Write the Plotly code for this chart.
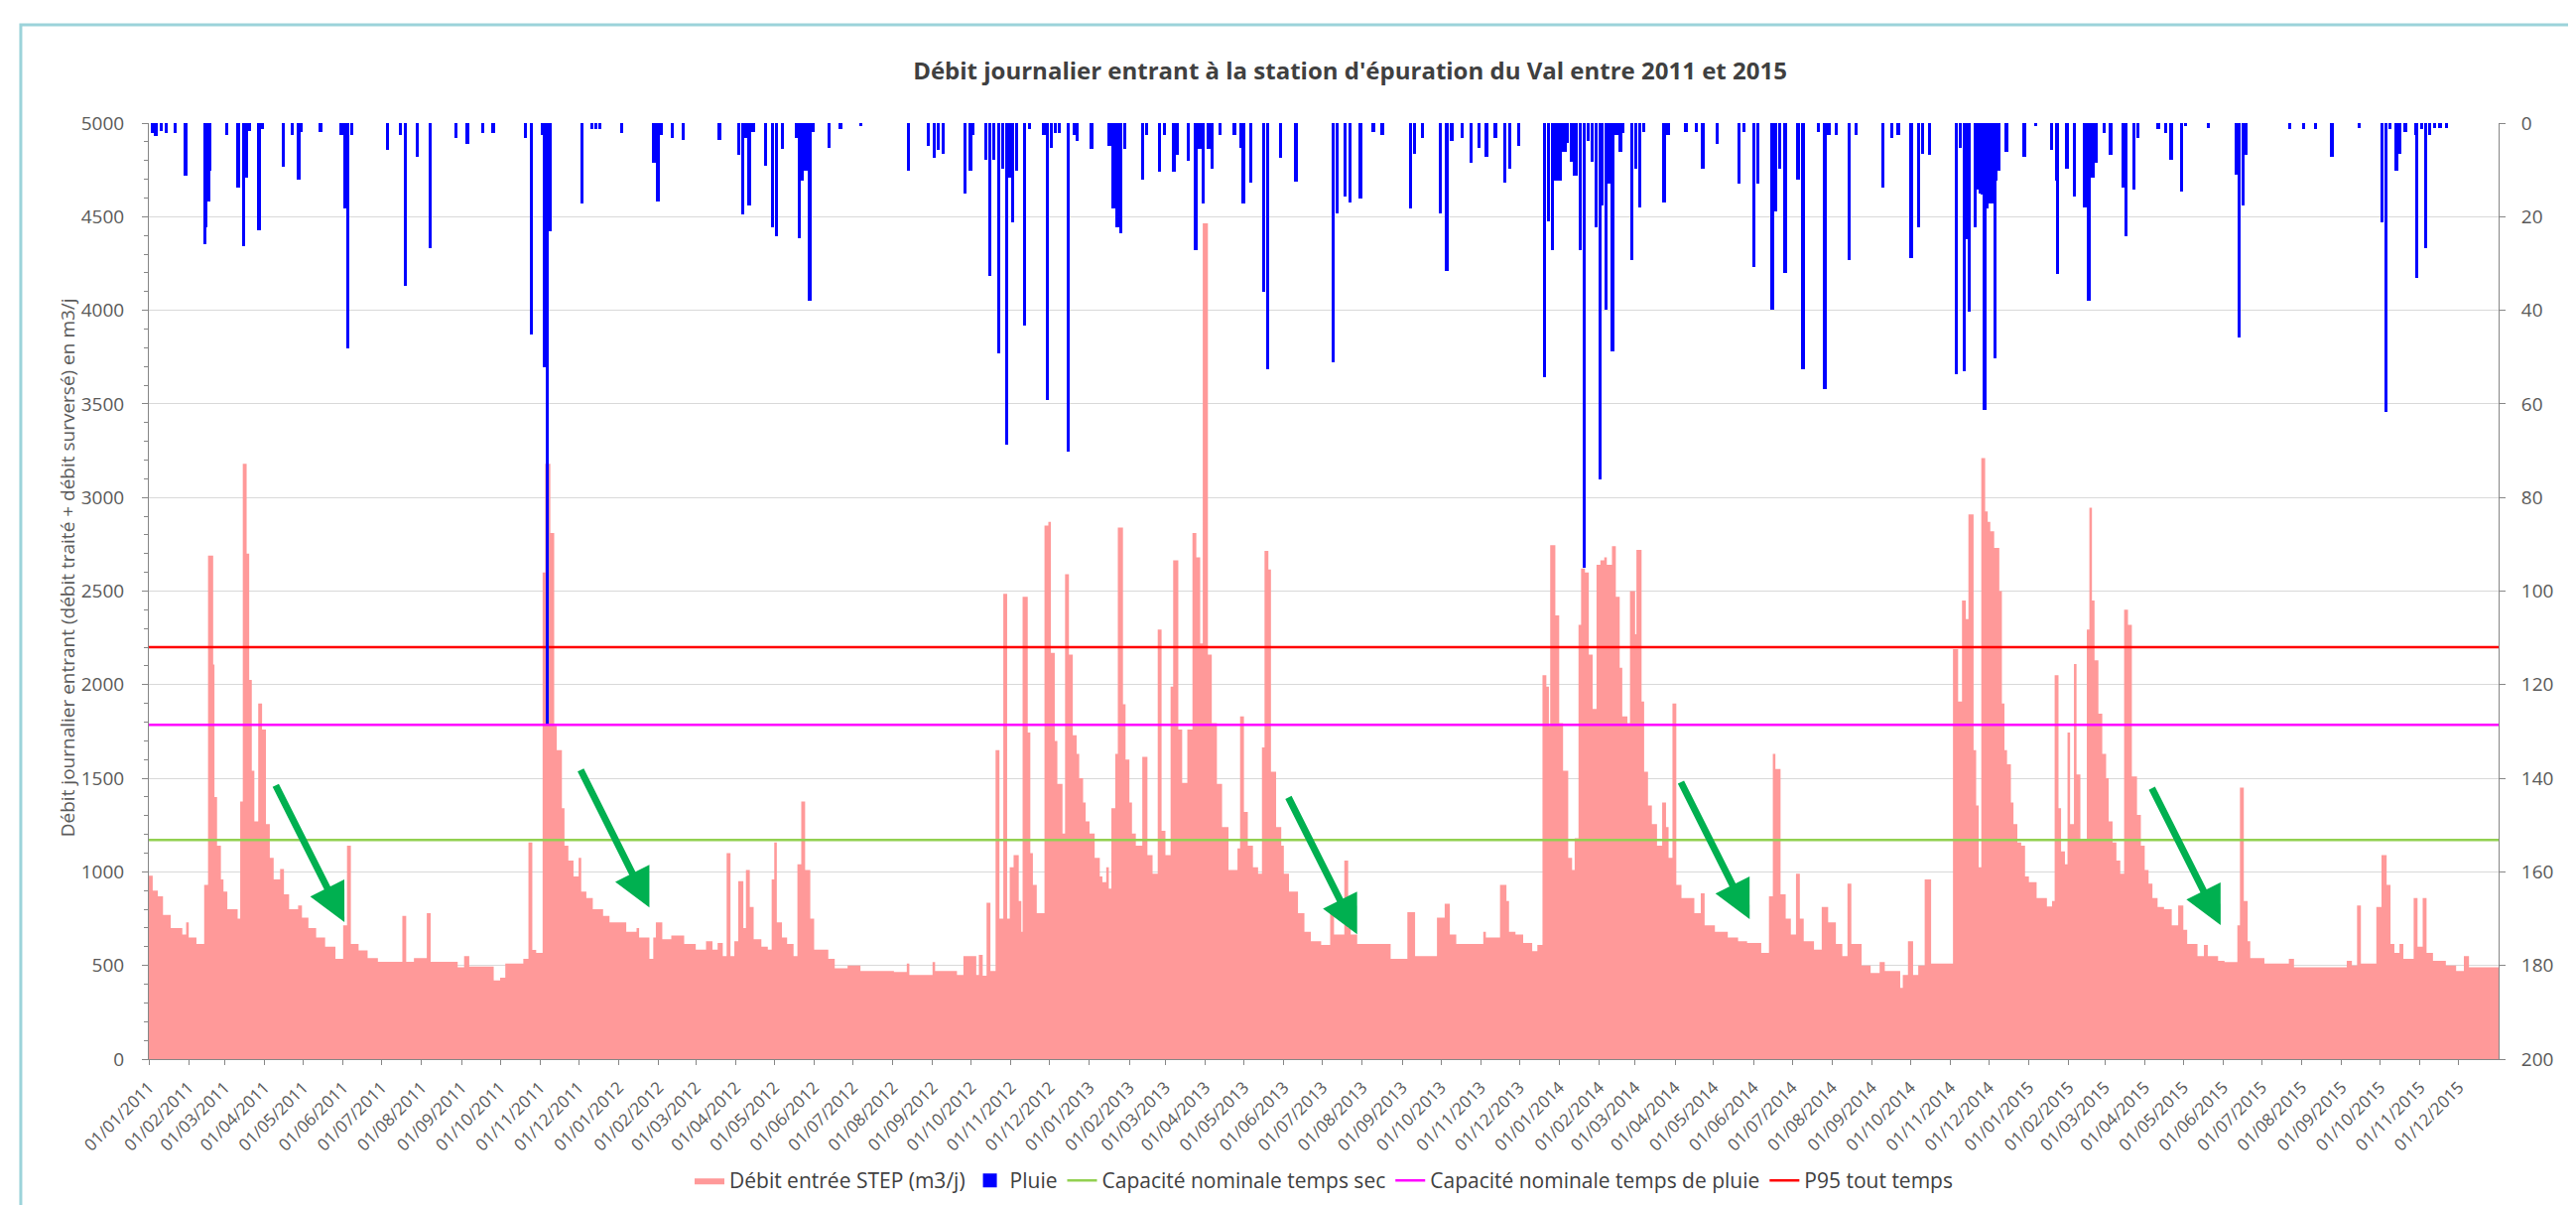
import pandas as pd
import plotly.graph_objects as go

# Débit journalier entrant: jour (depuis le 01/01/2011) -> m3/j
debit_jour = [
    0, 3, 7, 11, 17, 26, 29, 31, 37, 43, 46, 50, 51, 53, 56, 58, 61, 69, 71, 73,
    76, 78, 80, 82, 85, 88, 91, 94, 97, 102, 105, 109, 116, 119, 124, 130, 137, 145, 151, 154,
    157, 163, 170, 178, 197, 200, 206, 216, 219, 240, 245, 249, 268, 273, 277, 291, 295, 298, 301, 306,
    308, 312, 315, 317, 321, 323, 326, 330, 334, 336, 340, 345, 353, 358,
    371, 379, 381, 389, 392, 394, 399, 406, 416, 425, 433, 438, 442, 446, 449, 452, 455, 458, 462, 464,
    467, 470, 476, 481, 484, 486, 488, 492, 496, 501, 504, 507, 510, 514, 517, 528, 533, 543, 553, 579,
    589, 591, 609, 611, 628, 633, 643, 645, 648, 651, 654, 658, 661, 664, 667, 669, 672, 676, 678, 679,
    683, 685, 687, 690, 696, 699, 701, 704, 706, 710, 712, 715, 718, 721, 723, 726, 728,
    731, 735, 739, 741, 744, 746, 748, 751, 753, 757, 759, 762, 764, 767, 772, 776, 780, 784, 787, 790,
    794, 796, 800, 803, 807, 811, 814, 817, 819, 823, 826, 830, 834, 839, 846, 848, 851, 854, 858, 862,
    865, 867, 870, 872, 876, 880, 882, 886, 893, 898, 903, 911, 918, 921, 929, 932, 934, 939, 965, 978,
    984, 1001, 1007, 1011, 1016, 1037, 1039, 1050, 1055, 1057, 1062, 1068, 1075, 1079, 1083, 1086, 1088, 1089, 1093,
    1096, 1099, 1103, 1106, 1108, 1111, 1113, 1116, 1119, 1122, 1125, 1128, 1131, 1133, 1137, 1140, 1143, 1145, 1149, 1151,
    1155, 1156, 1160, 1162, 1165, 1168, 1172, 1176, 1179, 1181, 1184, 1187, 1191, 1201, 1206, 1209, 1217, 1227, 1235, 1242,
    1253, 1259, 1262, 1264, 1268, 1272, 1276, 1280, 1283, 1286, 1294, 1300, 1305, 1311, 1316, 1320, 1323, 1331, 1338, 1345,
    1349, 1361, 1363, 1367, 1371, 1375, 1380, 1385, 1402, 1406, 1409, 1412, 1414, 1418, 1420, 1422, 1424, 1427, 1429, 1431,
    1434, 1438, 1440, 1442, 1444, 1447, 1449, 1452, 1455, 1458,
    1461, 1467, 1475, 1479, 1481, 1484, 1486, 1489, 1491, 1493, 1496, 1498, 1501, 1506, 1508, 1510, 1512, 1515, 1518, 1521,
    1523, 1526, 1529, 1532, 1535, 1538, 1541, 1545, 1548, 1551, 1554, 1557, 1561, 1566, 1572, 1577, 1581, 1584, 1592, 1597,
    1600, 1608, 1613, 1623, 1625, 1628, 1631, 1633, 1644, 1663, 1667, 1708, 1712, 1716, 1719, 1731, 1735, 1739, 1742, 1745,
    1749, 1752, 1760, 1763, 1767, 1770, 1775, 1785, 1793, 1799, 1803,
]
debit_m3j = [
    980, 900, 870, 770, 700, 665, 730, 650, 615, 930, 2690, 2107, 1400, 1140, 960, 895, 800, 750, 1376, 3180,
    2700, 2025, 1540, 1270, 1900, 1760, 1255, 1075, 960, 1015, 880, 800, 820, 755, 700, 650, 600, 535, 715, 1140,
    615, 580, 540, 520, 765, 520, 540, 780, 520, 490, 550, 495, 420, 435, 510, 535, 1157, 583, 567, 2600,
    3180, 2810, 1780, 1650, 1340, 1140, 1060, 975, 1075, 895, 860, 800, 765, 730,
    680, 700, 650, 535, 650, 730, 640, 660, 615, 585, 630, 585, 620, 550, 1100, 550, 630, 950, 700, 1010,
    813, 640, 600, 585, 960, 1157, 730, 650, 615, 550, 1040, 1376, 1010, 750, 585, 535, 485, 500, 470, 465,
    510, 450, 518, 470, 450, 550, 450, 557, 445, 835, 470, 1650, 750, 2485, 750, 1025, 1090, 845, 680, 2470,
    1745, 1100, 930, 780, 2850, 2870, 2170, 1700, 1470, 1205, 2590, 2160, 1730, 1630, 1500, 1370, 1270,
    1205, 1075, 975, 945, 1025, 910, 1340, 1630, 2840, 1895, 1600, 1370, 1205, 1140, 1615, 1090, 990, 2295, 1220, 1090,
    1990, 2665, 1760, 1475, 1760, 2810, 2680, 2220, 4465, 2160, 1795, 1470, 1240, 1010, 1125, 1830, 1320, 1140, 1025, 990,
    1665, 2715, 2615, 1535, 1240, 1140, 990, 895, 780, 680, 630, 610, 780, 665, 1060, 700, 665, 615, 535, 785,
    550, 755, 830, 665, 615, 680, 650, 930, 845, 680, 665, 620, 577, 610, 2050, 1990, 1780, 2745, 2370,
    1795, 1540, 1075, 1010, 1180, 2320, 2620, 2600, 2160, 1870, 2640, 2665, 2680, 2640, 2740, 2470, 2090, 1830, 1795, 2500,
    2270, 2720, 1910, 1535, 1355, 1255, 1140, 1370, 1240, 1075, 1900, 930, 860, 780, 885, 715, 680, 650, 630, 620,
    567, 870, 1630, 1550, 880, 750, 665, 990, 750, 630, 585, 813, 730, 615, 550, 937, 615, 500, 460, 518,
    470, 380, 450, 630, 450, 500, 960, 510, 2190, 1910, 2450, 2350, 2910, 1650, 1355, 1025, 3210, 2925, 2870, 2820,
    2730, 2500, 1900, 1650, 1575, 1370, 1255, 1157, 1140, 975,
    945, 860, 815, 845, 2050, 1340, 1110, 1040, 1745, 1255, 2110, 1520, 1175, 2295, 2945, 2450, 2130, 1845, 1630, 1500,
    1270, 1157, 1060, 990, 2400, 2320, 1510, 1305, 1140, 1010, 937, 860, 813, 800, 715, 820, 690, 615, 550, 610,
    550, 525, 518, 715, 1450, 845, 630, 540, 510, 535, 490, 525, 500, 820, 510, 813, 1090, 930, 615, 567,
    615, 535, 860, 600, 860, 567, 525, 500, 470, 550, 490,
]

pluie_jour = [
    2, 5, 9, 13, 20, 28, 43, 44, 46, 47, 60, 69, 73, 75, 78, 85, 88, 104, 111, 116,
    118, 133, 149, 152, 154, 157, 185, 195, 199, 208, 218, 238, 247, 259, 267, 292, 297, 305, 307, 309,
    310, 311, 336, 344, 347, 350,
    367, 392, 395, 398, 406, 415, 443, 458, 461, 463, 466, 469, 479, 484, 487, 492, 503, 505, 507, 510,
    513, 516, 528, 537, 553, 590, 605, 610, 613, 617, 634, 638, 640, 650, 653, 656, 660, 663, 666, 668,
    671, 674, 680, 684, 695, 698, 701, 704, 707, 714, 719,
    721, 732, 746, 749, 752, 755, 758, 772, 775, 785, 789, 796, 799, 807, 813, 816, 819, 823, 826, 832,
    843, 848, 850, 856, 866, 869, 879, 891, 920, 923, 929, 933, 941, 951, 958, 980, 983, 989, 1003, 1008,
    1012, 1020, 1027, 1033, 1039, 1046, 1053, 1057, 1064,
    1084, 1087, 1090, 1092, 1094, 1096, 1098, 1100, 1102, 1105, 1107, 1109, 1112, 1115, 1118, 1121, 1124, 1127, 1129, 1132,
    1134, 1137, 1140, 1143, 1145, 1152, 1155, 1158, 1161, 1177, 1180, 1194, 1202, 1207, 1218, 1235, 1239, 1247, 1250, 1261,
    1264, 1267, 1271, 1281, 1285, 1297, 1302, 1305, 1311, 1321, 1326, 1347, 1354, 1359, 1369, 1375, 1378, 1383, 1404, 1407,
    1410, 1412, 1414, 1419, 1421, 1423, 1424, 1426, 1428, 1430, 1432, 1434, 1435, 1437, 1443, 1457,
    1466, 1478, 1482, 1483, 1490, 1496, 1504, 1507, 1510, 1513, 1519, 1524, 1534, 1536, 1542, 1545, 1561, 1567, 1571, 1579,
    1582, 1600, 1622, 1624, 1627, 1629, 1663, 1674, 1683, 1696, 1717, 1735, 1738, 1741, 1746, 1749, 1753, 1761, 1762, 1766,
    1769, 1772, 1776, 1780, 1785,
]
pluie_mm = [
    2, 2.5, 1.5, 2, 2, 11, 25.7, 22, 16.5, 10, 2.4, 13.5, 26, 11.5, 1.5, 22.7, 1, 9.2, 2.4, 11.8,
    1.7, 1.7, 2.4, 18, 48, 2.4, 5.6, 2.4, 34.5, 7, 26.6, 3, 4.3, 2, 2, 3, 45, 2.4, 52, 128,
    23, 23, 17, 1, 1, 1,
    2, 8.3, 16.5, 2.4, 3, 3.4, 3.4, 6.5, 19.4, 3, 17.4, 1.7, 8.9, 22, 24, 5.2, 3, 24.4, 12, 10,
    37.7, 1.7, 5, 1, 0.5, 10, 4.7, 7.3, 5.6, 6.3, 14.8, 10, 2.4, 7.6, 32.5, 7.6, 48.9, 9.6, 68.5, 11.5,
    21, 10, 43, 1, 2.4, 59, 5, 2, 2, 70, 2.4,
    3.7, 5.2, 4.7, 18, 22, 23.3, 5.2, 11.8, 2.4, 10.2, 2.4, 10.2, 6.5, 7.9, 27, 5.2, 17, 5.2, 9.6, 2.4,
    2.4, 5, 17, 12.6, 35.8, 52.4, 7.3, 12.2, 50.8, 19, 15.5, 16.8, 16, 1.7, 2.4, 18, 6.3, 3, 19, 31.4,
    3.7, 3, 8.3, 5, 7, 3, 12.6, 9.6, 4.7,
    54, 20.7, 27, 12, 12, 12, 6, 6, 4, 8, 11, 11, 27, 94.7, 3.7, 8, 22, 76, 17.4, 39.7,
    12.8, 48.5, 2.4, 6, 2, 29, 9.6, 17.8, 1.7, 16.8, 2.4, 1.7, 1.7, 9.6, 4.3, 12.8, 1.7, 30.5, 12.8, 39.7,
    18.7, 9.6, 31.8, 11.8, 52.4, 1.7, 56.7, 2.4, 2.4, 29, 2.4, 13.5, 3, 2.4, 28.6, 22, 6.3, 6.5, 53.4, 5,
    52.8, 24.6, 40, 22, 14, 14.8, 15, 61, 18, 17, 17, 50, 12, 10, 6, 7,
    0.5, 5.6, 12, 32, 9.6, 15.5, 17.8, 37.7, 11.5, 8.3, 2, 6.5, 13.5, 24, 14, 3, 1, 2, 7.6, 14.4,
    0.5, 0.8, 10.9, 45.6, 17.4, 6.5, 1, 1, 1, 7, 0.8, 21, 61.6, 1, 10, 6.3, 1.7, 2.4, 32.8, 1,
    26.6, 2.4, 0.8, 0.8, 0.8,
]

capacite_temps_sec = 1170
capacite_temps_pluie = 1785
p95_tout_temps = 2200

# Flèches vertes : jour/débit de départ et jour/débit d'arrivée
fleche_jour_debut = [98, 335, 885, 1190, 1556]
fleche_debit_debut = [1470, 1552, 1406, 1487, 1455]
fleche_jour_fin = [152, 389, 939, 1244, 1610]
fleche_debit_fin = [732, 810, 667, 748, 716]

assert len(debit_jour) == len(debit_m3j)
assert len(pluie_jour) == len(pluie_mm)

FONT = "Open Sans"
GRIS = "#595959"
AXE = "#868686"

debut = pd.Timestamp("2011-01-01")
fin = pd.Timestamp("2016-01-01")
nb_jours = (fin - debut).days

x_debit = debut + pd.to_timedelta(debit_jour + [nb_jours], unit="D")
y_debit = debit_m3j + [debit_m3j[-1]]
x_pluie = debut + pd.to_timedelta(pluie_jour, unit="D") + pd.Timedelta(hours=12)

# un repère par mois, du 01/01/2011 au 01/12/2015
mois = pd.date_range("2011-01-01", "2015-12-01", freq="MS")

fig = go.Figure()

fig.add_trace(go.Scatter(
    x=x_debit, y=y_debit,
    mode="lines",
    line=dict(shape="hv", width=0, color="#FF9999"),
    fill="tozeroy", fillcolor="#FF9999",
    name="Débit entrée STEP (m3/j)",
))

fig.add_trace(go.Bar(
    x=x_pluie, y=pluie_mm,
    width=86400000,
    marker=dict(color="#0000FF", line=dict(color="#0000FF", width=2)),
    yaxis="y2",
    name="Pluie",
))

for valeur, couleur, nom in [
    (capacite_temps_sec, "#92D050", "Capacité nominale temps sec"),
    (capacite_temps_pluie, "#FF00FF", "Capacité nominale temps de pluie"),
    (p95_tout_temps, "#FF0000", "P95 tout temps"),
]:
    fig.add_trace(go.Scatter(
        x=[debut, fin], y=[valeur, valeur],
        mode="lines",
        line=dict(color=couleur, width=2.5),
        name=nom,
    ))

# flèches vertes
for j0, d0, j1, d1 in zip(fleche_jour_debut, fleche_debit_debut, fleche_jour_fin, fleche_debit_fin):
    fig.add_annotation(
        x=debut + pd.Timedelta(days=j1), y=d1,
        ax=debut + pd.Timedelta(days=j0), ay=d0,
        xref="x", yref="y", axref="x", ayref="y",
        text="", showarrow=True,
        arrowhead=2, arrowsize=1.1, arrowwidth=7, arrowcolor="#00B050",
        standoff=0,
    )

# titre de l'axe vertical gauche
fig.add_annotation(
    text="Débit journalier entrant (débit traité + débit surversé) en m3/j",
    xref="paper", yref="paper", x=-0.0345, y=0.525,
    xanchor="center", yanchor="middle",
    textangle=-90, showarrow=False,
    font=dict(family=FONT, size=19, color=GRIS),
)

# cadre du graphique
fig.add_shape(
    type="rect", xref="paper", yref="paper",
    x0=-0.0545, x1=1.033, y0=-0.2, y1=1.105,
    line=dict(color="#9CD3DA", width=3),
)

fig.update_layout(
    width=2596, height=1214,
    margin=dict(l=142, r=86, t=116, b=138),
    paper_bgcolor="white",
    plot_bgcolor="white",
    font=dict(family=FONT, color=GRIS),
    title=dict(
        text="<b>Débit journalier entrant à la station d'épuration du Val entre 2011 et 2015</b>",
        xref="container", yref="container",
        x=0.521, y=0.948, xanchor="center", yanchor="middle",
        font=dict(family=FONT, size=24, color="#404040"),
    ),
    bargap=0,
    xaxis=dict(
        type="date",
        range=[debut, fin],
        tickmode="array", tickvals=mois,
        tickformat="%d/%m/%Y", tickangle=-45,
        ticks="outside", ticklen=5, tickcolor=AXE,
        ticklabelstandoff=6,
        showline=True, linecolor=AXE, linewidth=1,
        showgrid=False,
        tickfont=dict(family=FONT, size=17, color=GRIS),
    ),
    yaxis=dict(
        range=[0, 5000], dtick=500,
        ticks="outside", ticklen=6, tickcolor=AXE,
        ticklabelstandoff=14,
        minor=dict(dtick=100, ticks="outside", ticklen=4, tickcolor=AXE, showgrid=False),
        showline=True, linecolor=AXE, linewidth=1,
        showgrid=True, gridcolor="#D9D9D9", zeroline=False,
        tickfont=dict(family=FONT, size=19, color=GRIS),
    ),
    yaxis2=dict(
        overlaying="y", side="right",
        range=[200, 0], dtick=20,
        ticks="outside", ticklen=6, tickcolor=AXE,
        ticklabelstandoff=12,
        showline=True, linecolor=AXE, linewidth=1,
        showgrid=False, zeroline=False,
        tickfont=dict(family=FONT, size=19, color=GRIS),
    ),
    legend=dict(
        orientation="h",
        x=0.5, y=-0.13, xanchor="center", yanchor="middle",
        font=dict(family=FONT, size=21, color="#404040"),
        bgcolor="rgba(0,0,0,0)",
    ),
    showlegend=True,
)

fig.write_html("out.html")
